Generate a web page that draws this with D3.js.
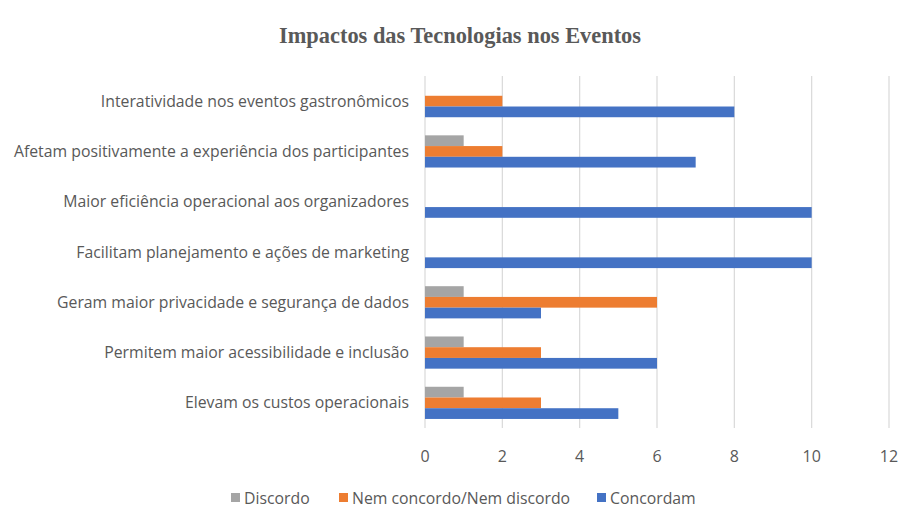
<!DOCTYPE html>
<html>
<head>
<meta charset="utf-8">
<script src="https://d3js.org/d3.v7.min.js"></script>
<style>
	body { margin: 0; background: #fff; }
	svg text { fill: #595959; font-family: 'Open Sans', sans-serif; }
</style>
</head>
<body>
<div id="chart"></div>
<script>
// data
var categories = [
	"Interatividade nos eventos gastronômicos",
	"Afetam positivamente a experiência dos participantes",
	"Maior eficiência operacional aos organizadores",
	"Facilitam planejamento e ações de marketing",
	"Geram maior privacidade e segurança de dados",
	"Permitem maior acessibilidade e inclusão",
	"Elevam os custos operacionais"
];
var seriesNames = ["Discordo", "Nem concordo/Nem discordo", "Concordam"];
var discordo = [0, 1, 0, 0, 1, 1, 1];
var nemConcordo = [2, 2, 0, 0, 6, 3, 3];
var concordam = [8, 7, 10, 10, 3, 6, 5];
var xTicks = [0, 2, 4, 6, 8, 10, 12];
var colors = ["#A5A5A5", "#ED7D31", "#4472C4"];

var w = 908, h = 524;
var seriesVals = [discordo, nemConcordo, concordam];

var svg = d3.select('#chart')
	.append('svg')
	.attr('width', w)
	.attr('height', h);

svg.append('text')
	.text("Impactos das Tecnologias nos Eventos")
	.attr('x', 460)
	.attr('y', 43)
	.attr('text-anchor', 'middle')
	.style('font-family', "'Liberation Serif', serif")
	.style('font-weight', 'bold')
	.style('font-size', '22.4px');

var x = d3.scaleLinear().domain([0, 12]).range([425, 889]);
var y = d3.scaleBand().domain(categories).range([76, 428]).paddingInner(0.36).paddingOuter(0.18);
var ySub = d3.scaleBand().domain(d3.range(3)).range([0, y.bandwidth()]);

// grid
svg.selectAll('line.grid')
	.data(xTicks)
	.enter()
	.append('line')
	.attr('class', 'grid')
	.attr('x1', function(d){ return x(d); })
	.attr('x2', function(d){ return x(d); })
	.attr('y1', 76)
	.attr('y2', 428)
	.attr('stroke', '#d9d9d9')
	.attr('stroke-width', 1.2);

// bars
categories.forEach(function(c, i){
	seriesVals.forEach(function(vals, s){
		if (vals[i] > 0) {
			svg.append('rect')
				.attr('x', x(0))
				.attr('y', y(c) + ySub(s))
				.attr('width', x(vals[i]) - x(0))
				.attr('height', ySub.bandwidth())
				.attr('fill', colors[s]);
		}
	});
});

// category labels
svg.selectAll('text.cat')
	.data(categories)
	.enter()
	.append('text')
	.attr('class', 'cat')
	.text(function(d){ return d; })
	.attr('x', 409)
	.attr('y', function(d){ return y(d) + y.bandwidth() / 2; })
	.attr('dy', '0.35em')
	.attr('text-anchor', 'end')
	.style('font-size', '15.8px');

// x axis labels
svg.selectAll('text.tick')
	.data(xTicks)
	.enter()
	.append('text')
	.attr('class', 'tick')
	.text(function(d){ return d; })
	.attr('x', function(d){ return x(d); })
	.attr('y', 456)
	.attr('dy', '0.35em')
	.attr('text-anchor', 'middle')
	.style('font-size', '16px');

// legend
var legendX = [231, 339, 597];
seriesNames.forEach(function(n, s){
	svg.append('rect')
		.attr('x', legendX[s])
		.attr('y', 493)
		.attr('width', 9)
		.attr('height', 9)
		.attr('fill', colors[s]);
	svg.append('text')
		.text(n)
		.attr('x', legendX[s] + 13)
		.attr('y', 498)
		.attr('dy', '0.35em')
		.style('font-size', '15.8px');
});
</script>
</body>
</html>
